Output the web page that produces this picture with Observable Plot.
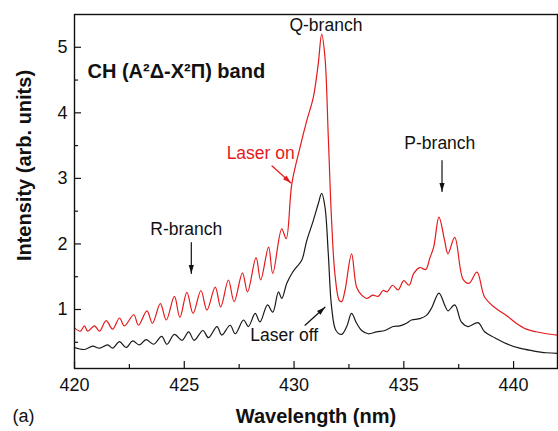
<!DOCTYPE html>
<html>
<head>
<meta charset="utf-8">
<script src="https://cdn.jsdelivr.net/npm/d3@7"></script>
<script src="https://cdn.jsdelivr.net/npm/@observablehq/plot@0.6"></script>
<style>
  body { margin: 0; background: #fff; }
  svg { font-family: "Liberation Sans", Arial, sans-serif; }
</style>
</head>
<body>
<div id="chart"></div>
<script>
// ---- Data ----
const onWavelength = [420.00,420.27,420.45,420.60,420.91,421.14,421.44,421.74,422.05,422.27,422.70,422.91,423.30,423.55,423.91,424.18,424.55,424.80,425.12,425.40,425.76,426.03,426.41,426.66,427.01,427.27,427.65,427.88,428.27,428.48,428.84,429.03,429.44,429.64,429.90,430.27,430.58,430.88,431.10,431.26,431.41,431.56,431.71,431.86,432.06,432.17,432.32,432.62,432.85,433.08,433.33,433.58,433.83,434.06,434.24,434.49,434.74,435.00,435.24,435.45,435.73,436.00,436.18,436.36,436.60,436.86,437.01,437.32,437.70,437.97,438.33,438.68,439.14,439.67,440.12,440.58,441.03,441.49,442.00];
const onIntensity = [0.72,0.67,0.75,0.67,0.75,0.67,0.83,0.70,0.87,0.75,0.92,0.76,0.98,0.79,1.09,0.84,1.20,0.88,1.26,0.94,1.29,0.99,1.34,1.04,1.45,1.12,1.56,1.27,1.79,1.45,1.95,1.55,2.23,2.08,2.92,3.47,3.88,4.24,4.74,5.20,4.84,3.63,2.36,1.55,1.14,1.12,1.29,1.85,1.34,1.22,1.17,1.22,1.20,1.29,1.27,1.37,1.30,1.44,1.37,1.55,1.64,1.61,1.78,1.95,2.41,2.05,1.85,2.10,1.46,1.40,1.57,1.19,1.03,0.91,0.79,0.70,0.66,0.63,0.61];
const offWavelength = [420.00,420.45,420.83,421.14,421.51,421.74,422.05,422.35,422.65,422.95,423.26,423.60,423.97,424.21,424.55,424.90,425.20,425.45,425.85,426.10,426.49,426.71,427.09,427.32,427.70,427.92,428.23,428.45,428.79,429.03,429.29,429.44,429.67,429.90,430.12,430.35,430.58,430.88,431.10,431.26,431.41,431.56,431.71,431.91,432.17,432.40,432.62,432.85,433.08,433.38,433.76,434.14,434.51,434.82,435.12,435.35,435.73,436.03,436.26,436.60,436.86,437.01,437.32,437.62,437.92,438.38,438.68,439.14,439.67,440.27,440.88,441.49,442.00];
const offIntensity = [0.42,0.39,0.44,0.41,0.46,0.41,0.51,0.42,0.52,0.46,0.54,0.47,0.59,0.47,0.62,0.53,0.66,0.53,0.68,0.57,0.74,0.61,0.76,0.63,0.84,0.74,0.94,0.81,1.07,0.96,1.27,1.17,1.40,1.55,1.65,1.75,2.05,2.36,2.61,2.77,2.56,1.85,1.04,0.68,0.62,0.74,0.94,0.79,0.68,0.63,0.66,0.68,0.74,0.75,0.79,0.84,0.86,0.91,1.02,1.25,1.07,0.98,1.07,0.81,0.74,0.80,0.66,0.57,0.48,0.41,0.37,0.34,0.33];

const xMajorTicks = [420, 425, 430, 435, 440];
const xMinorTicks = [422.5, 427.5, 432.5, 437.5];
const yMajorTicks = [1, 2, 3, 4, 5];
const yMinorTicks = [0.5, 1.5, 2.5, 3.5, 4.5];

const labelText = ["Q-branch", "P-branch", "R-branch", "Laser off"];
const labelX = [431.45, 436.64, 425.09, 429.55];
const labelY = [5.34, 3.53, 2.22, 0.61];

const laserOnText = ["Laser on"];
const laserOnX = [428.48];
const laserOnY = [3.38];

const bandText = ["CH (A²Δ-X²Π) band"];
const bandX = [420.59];
const bandY = [4.63];

const arrowName = ["on", "P", "R", "off"];
const arrowX1 = [429.00, 436.74, 425.32, 430.50];
const arrowY1 = [3.19, 3.27, 2.02, 0.76];
const arrowX2 = [429.86, 436.74, 425.32, 431.41];
const arrowY2 = [2.93, 2.80, 1.55, 1.035];

// ---- Build tables ----
const spectra = [
  ...onWavelength.map((w, i) => ({wavelength: w, intensity: onIntensity[i], series: "Laser on"})),
  ...offWavelength.map((w, i) => ({wavelength: w, intensity: offIntensity[i], series: "Laser off"}))
];
const labels = labelText.map((t, i) => ({text: t, x: labelX[i], y: labelY[i]}));
const laserOn = laserOnText.map((t, i) => ({text: t, x: laserOnX[i], y: laserOnY[i]}));
const band = bandText.map((t, i) => ({text: t, x: bandX[i], y: bandY[i]}));
const arrows = arrowName.map((n, i) => ({name: n, x1: arrowX1[i], y1: arrowY1[i], x2: arrowX2[i], y2: arrowY2[i]}));

// ---- Layout ----
const W = 558, H = 431;
const mL = 74, mR = 1, mT = 14, mB = 63;
const xDomain = [420, 442], yDomain = [0.1, 5.5];
const innerW = W - mL - mR, innerH = H - mT - mB;
const RED = "#e41a1c", INK = "#111";

const xs = Plot.scale({x: {domain: xDomain, range: [mL, W - mR]}});
const ys = Plot.scale({y: {domain: yDomain, range: [H - mB, mT]}});

// filled arrow head with its tip at the origin, pointing up
const headShape = {
  draw(ctx, size) {
    const r = Math.sqrt(size / Math.PI);
    ctx.moveTo(0, 0);
    ctx.lineTo(-0.65 * r, 2.1 * r);
    ctx.lineTo(0.65 * r, 2.1 * r);
    ctx.closePath();
  }
};

function arrowMarks(a, color) {
  const dx = xs.apply(a.x2) - xs.apply(a.x1);
  const dy = ys.apply(a.y2) - ys.apply(a.y1);
  const angle = Math.atan2(dx, -dy) * 180 / Math.PI;
  return [
    Plot.arrow([a], {x1: "x1", y1: "y1", x2: "x2", y2: "y2", headLength: 0, stroke: color, strokeWidth: 1.2}),
    Plot.dot([a], {x: "x2", y: "y2", symbol: headShape, r: 4, fill: color, stroke: "none", rotate: angle})
  ];
}

const chart = Plot.plot({
  width: W, height: H,
  marginLeft: mL, marginRight: mR, marginTop: mT, marginBottom: mB,
  style: {fontFamily: '"Liberation Sans", Arial, sans-serif', color: INK, background: "#fff"},
  x: {domain: xDomain, label: null},
  y: {domain: yDomain, label: null},
  marks: [
    // axes labels only
    Plot.axisX(xMajorTicks, {tickSize: 0, tickPadding: 10, fontSize: 18, label: null, tickFormat: d => String(d)}),
    Plot.axisY(yMajorTicks, {tickSize: 0, tickPadding: 7, fontSize: 18, label: null, tickFormat: d => String(d)}),
    // inward ticks
    Plot.tickX(xMajorTicks, {x: d => d, insetTop: innerH - 7, stroke: INK, strokeWidth: 1.2}),
    Plot.tickX(xMinorTicks, {x: d => d, insetTop: innerH - 4, stroke: INK, strokeWidth: 1.2}),
    Plot.tickY(yMajorTicks, {y: d => d, insetRight: innerW - 7, stroke: INK, strokeWidth: 1.2}),
    Plot.tickY(yMinorTicks, {y: d => d, insetRight: innerW - 4, stroke: INK, strokeWidth: 1.2}),
    // spectra
    Plot.line(spectra.filter(d => d.series === "Laser off"), {x: "wavelength", y: "intensity", stroke: "#1a1a1a", strokeWidth: 1.2, curve: "catmull-rom"}),
    Plot.line(spectra.filter(d => d.series === "Laser on"), {x: "wavelength", y: "intensity", stroke: RED, strokeWidth: 1.2, curve: "catmull-rom"}),
    Plot.frame({stroke: INK, strokeWidth: 1.4}),
    // annotations
    Plot.text(band, {x: "x", y: "y", text: "text", textAnchor: "start", fontSize: 20, fontWeight: "bold", fill: INK}),
    Plot.text(labels, {x: "x", y: "y", text: "text", fontSize: 17.5, fill: INK}),
    Plot.text(laserOn, {x: "x", y: "y", text: "text", fontSize: 17.5, fill: RED}),
    ...arrowMarks(arrows[0], RED),
    ...arrowMarks(arrows[1], INK),
    ...arrowMarks(arrows[2], INK),
    ...arrowMarks(arrows[3], INK),
    // axis titles
    Plot.text(["Wavelength (nm)"], {frameAnchor: "bottom", dy: 48, textAnchor: "middle", lineAnchor: "middle", fontSize: 20, fontWeight: "bold", fill: INK}),
    Plot.text(["Intensity (arb. units)"], {frameAnchor: "left", dx: -50, dy: -26, rotate: -90, textAnchor: "middle", lineAnchor: "middle", fontSize: 20, fontWeight: "bold", fill: INK}),
    Plot.text(["(a)"], {frameAnchor: "bottom-left", dx: -62, dy: 48, textAnchor: "start", lineAnchor: "middle", fontSize: 18, fill: INK})
  ]
});
document.getElementById("chart").appendChild(chart);
</script>
</body>
</html>
